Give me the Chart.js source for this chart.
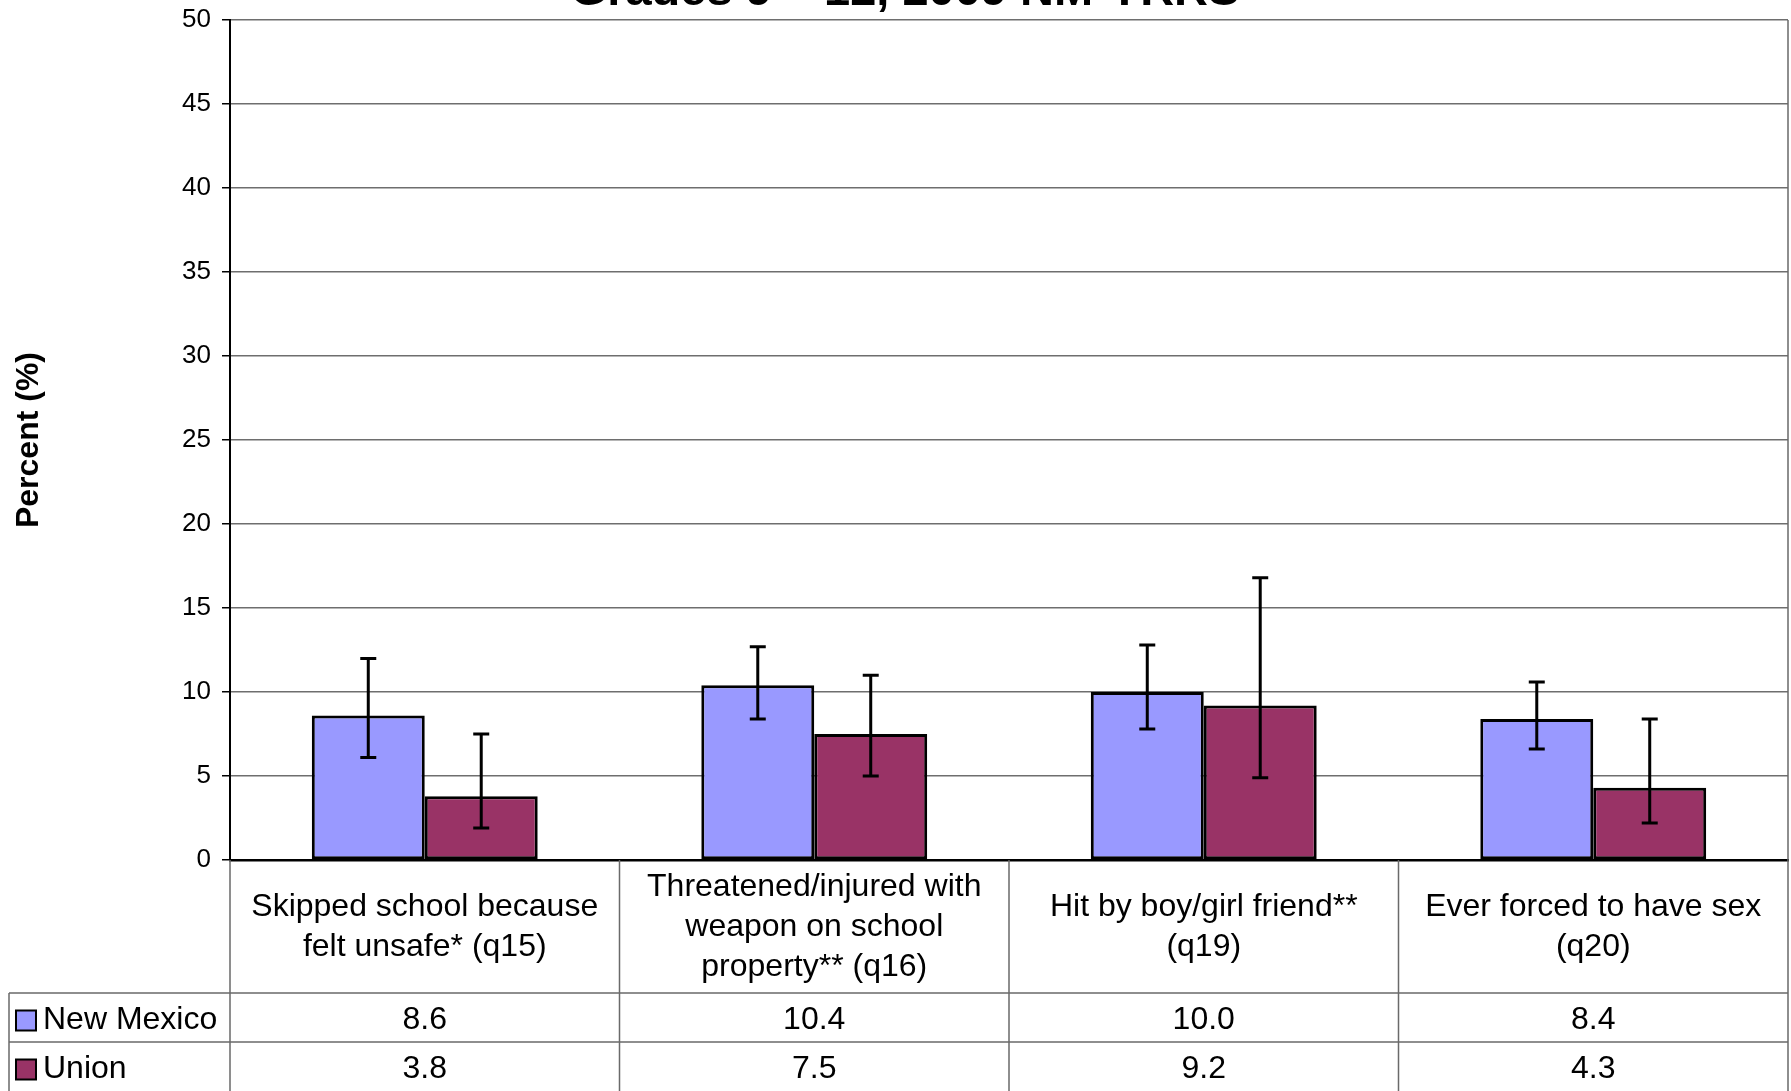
<!DOCTYPE html>
<html>
<head>
<meta charset="utf-8">
<script src="https://cdn.jsdelivr.net/npm/chart.js@4"></script>
<style>
  body { margin: 0; background: #fff; }
  canvas { display: block; }
</style>
</head>
<body>
<canvas id="myChart" width="1791" height="1091"></canvas>
<script>
const ctx = document.getElementById("myChart");

const title = "Grades 9 \u2013 12, 2009 NM-YRRS";
const categories = [
  ["Skipped school because", "felt unsafe* (q15)"],
  ["Threatened/injured with", "weapon on school", "property** (q16)"],
  ["Hit by boy/girl friend**", "(q19)"],
  ["Ever forced to have sex", "(q20)"],
];
const seriesNames = ["New Mexico", "Union"];
const nmValues = [8.6, 10.4, 10.0, 8.4];
const unionValues = [3.8, 7.5, 9.2, 4.3];
// confidence intervals
const nmLow = [6.1, 8.4, 7.8, 6.6];
const nmHigh = [12.0, 12.7, 12.8, 10.6];
const unionLow = [1.9, 5.0, 4.9, 2.2];
const unionHigh = [7.5, 11.0, 16.8, 8.4];
const yTicks = [0, 5, 10, 15, 20, 25, 30, 35, 40, 45, 50];

const FONT = "'Liberation Sans', Arial, sans-serif";
const colors = ["#9999FF", "#993366"];

Chart.defaults.color = "#000";
Chart.defaults.font.family = FONT;

const data = {
  labels: categories,
  datasets: [
    {
      label: seriesNames[0],
      data: nmValues,
      low: nmLow,
      high: nmHigh,
      backgroundColor: colors[0],
      borderColor: "#000",
      borderWidth: 3,
      borderSkipped: false,
    },
    {
      label: seriesNames[1],
      data: unionValues,
      low: unionLow,
      high: unionHigh,
      backgroundColor: colors[1],
      borderColor: "#000",
      borderWidth: 3,
      borderSkipped: false,
    },
  ],
};

const errorBars = {
  id: "errorBars",
  afterDatasetsDraw(chart) {
    const c = chart.ctx;
    const y = chart.scales.y;
    c.save();
    c.strokeStyle = "#000";
    c.lineWidth = 3;
    chart.data.datasets.forEach((ds, d) => {
      chart.getDatasetMeta(d).data.forEach((bar, i) => {
        const top = y.getPixelForValue(ds.high[i]);
        const bot = y.getPixelForValue(ds.low[i]);
        c.beginPath();
        c.moveTo(bar.x, top);
        c.lineTo(bar.x, bot);
        c.moveTo(bar.x - 8, top);
        c.lineTo(bar.x + 8, top);
        c.moveTo(bar.x - 8, bot);
        c.lineTo(bar.x + 8, bot);
        c.stroke();
      });
    });
    c.restore();
  },
};

// data table under the plot, plus the clipped title
const dataTable = {
  id: "dataTable",
  afterDraw(chart) {
    const c = chart.ctx;
    const area = chart.chartArea;
    const x = chart.scales.x;
    const catRow = 133;
    const valRow = 49;
    const legendLeft = 9;
    const r1 = area.bottom + catRow;
    const r2 = r1 + valRow;
    const r3 = r2 + valRow;
    const half = (x.getPixelForValue(1) - x.getPixelForValue(0)) / 2;

    c.save();
    c.strokeStyle = "#6a6a6a";
    c.lineWidth = 1.5;
    c.beginPath();
    c.moveTo(legendLeft, r1);
    c.lineTo(area.right, r1);
    c.moveTo(legendLeft, r2);
    c.lineTo(area.right, r2);
    c.moveTo(legendLeft, r1);
    c.lineTo(legendLeft, r3);
    c.moveTo(area.left, area.bottom);
    c.lineTo(area.left, r3);
    categories.forEach((cat, i) => {
      const bx = x.getPixelForValue(i) + half;
      c.moveTo(bx, area.bottom);
      c.lineTo(bx, r3);
    });
    c.moveTo(area.right, area.top);
    c.lineTo(area.right, r3);
    c.stroke();

    c.fillStyle = "#000";
    c.font = "32px " + FONT;
    c.textAlign = "center";
    c.textBaseline = "middle";
    const lh = 40;
    categories.forEach((lines, i) => {
      const cx = x.getPixelForValue(i);
      const cy = area.bottom + catRow / 2 + 1;
      lines.forEach((t, k) => {
        c.fillText(t, cx, cy + (k - (lines.length - 1) / 2) * lh);
      });
    });
    chart.data.datasets.forEach((ds, d) => {
      const cy = (d === 0 ? r1 : r2) + valRow / 2 + 3;
      c.textAlign = "center";
      ds.data.forEach((v, i) => {
        c.fillText(v.toFixed(1), x.getPixelForValue(i), cy);
      });
      c.fillStyle = ds.backgroundColor;
      c.fillRect(16, cy - 10, 20, 20);
      c.strokeStyle = "#000";
      c.lineWidth = 2;
      c.strokeRect(16, cy - 10, 20, 20);
      c.fillStyle = "#000";
      c.textAlign = "left";
      c.fillText(ds.label, 43, cy);
    });

    c.font = "bold 47px " + FONT;
    c.textAlign = "center";
    c.textBaseline = "alphabetic";
    c.fillText(title, 905, 5);
    c.restore();
  },
};

const config = {
  type: "bar",
  data: data,
  options: {
    responsive: false,
    animation: false,
    layout: { padding: { top: 20, bottom: 231, left: 0, right: 3 } },
    datasets: {
      bar: { categoryPercentage: 0.58, barPercentage: 1 },
    },
    plugins: {
      legend: { display: false },
      tooltip: { enabled: false },
    },
    scales: {
      x: {
        ticks: { display: false },
        grid: { display: false, drawTicks: false },
        border: { color: "#000", width: 2.5 },
      },
      y: {
        min: 0,
        max: 50,
        afterBuildTicks: (s) => {
          s.ticks = yTicks.map((v) => ({ value: v }));
        },
        afterFit: (s) => {
          s.width = 230;
          s.paddingTop = 0;
          s.paddingBottom = 0;
        },
        ticks: { font: { size: 26 }, padding: 11, color: "#000" },
        grid: { color: "#6e6e6e", lineWidth: 1.5, tickLength: 8, tickColor: "#000" },
        border: { color: "#000", width: 2 },
        title: {
          display: true,
          text: "Percent (%)",
          font: { size: 32, weight: "bold" },
          padding: { top: 10, bottom: 0 },
        },
      },
    },
  },
  plugins: [errorBars, dataTable],
};

const myChart = new Chart(ctx, config);
</script>
</body>
</html>
